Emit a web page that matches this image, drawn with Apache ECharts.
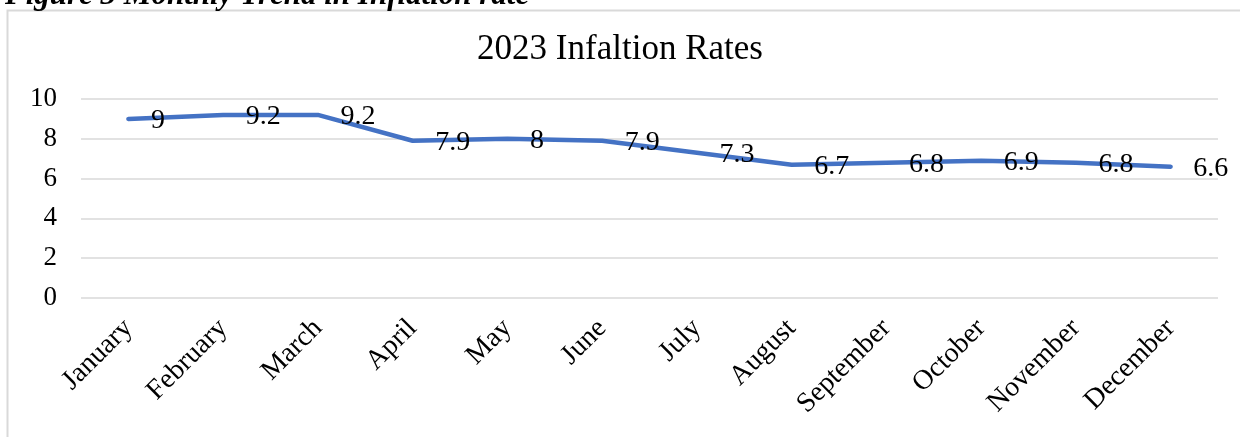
<!DOCTYPE html>
<html>
<head>
<meta charset="utf-8">
<script src="https://cdn.jsdelivr.net/npm/echarts@6/dist/echarts.min.js"></script>
<style>
  html, body { margin: 0; padding: 0; background: #fff; }
  #main { width: 1240px; height: 437px; }
</style>
</head>
<body>
<div id="main"></div>
<script>
const months = ['January', 'February', 'March', 'April', 'May', 'June',
  'July', 'August', 'September', 'October', 'November', 'December'];
const rates = [9, 9.2, 9.2, 7.9, 8, 7.9, 7.3, 6.7, 6.8, 6.9, 6.8, 6.6];
const yTicks = [0, 2, 4, 6, 8, 10];

const serif = '"Liberation Serif", "DejaVu Serif", serif';
const chart = echarts.init(document.getElementById('main'));

chart.setOption({
  animation: false,
  textStyle: { fontFamily: serif },
  title: [{
    text: 'Figure 3 Monthly Trend in Inflation rate',
    left: 0,
    top: -25,
    textStyle: { fontFamily: serif, fontSize: 31, fontWeight: 'bold', fontStyle: 'italic', color: '#000' }
  }, {
    text: '2023 Infaltion Rates',
    left: 'center',
    top: 27,
    textStyle: { fontFamily: serif, fontSize: 35, fontWeight: 'normal', color: '#000' }
  }],
  graphic: [{
    type: 'rect',
    shape: { x: 7.5, y: 10.5, width: 1260, height: 460 },
    style: { fill: 'none', stroke: '#d9d9d9', lineWidth: 2 },
    silent: true
  }],
  grid: { left: 81, right: 22, top: 99, height: 199 },
  xAxis: {
    type: 'category',
    data: months,
    boundaryGap: true,
    axisLine: { show: false },
    axisTick: { show: false },
    axisLabel: { rotate: 45, fontSize: 28, color: '#000', margin: 26, fontFamily: serif }
  },
  yAxis: {
    type: 'value',
    min: 0,
    max: 10,
    interval: 2,
    axisLine: { show: false },
    axisTick: { show: false },
    splitLine: { lineStyle: { color: '#d9d9d9', width: 1.5 } },
    axisLabel: {
      fontSize: 27, color: '#000', margin: 24, fontFamily: serif,
      formatter: v => yTicks.includes(v) ? String(v) : ''
    }
  },
  series: [{
    type: 'line',
    data: rates,
    showSymbol: true,
    symbol: 'circle',
    symbolSize: 1,
    itemStyle: { color: 'rgba(0,0,0,0)' },
    lineStyle: { color: '#4472c4', width: 4.5, cap: 'round' },
    label: {
      show: true,
      position: 'right',
      distance: 22,
      offset: [0, 2],
      fontSize: 28,
      color: '#000',
      fontFamily: serif
    }
  }]
});
</script>
</body>
</html>
